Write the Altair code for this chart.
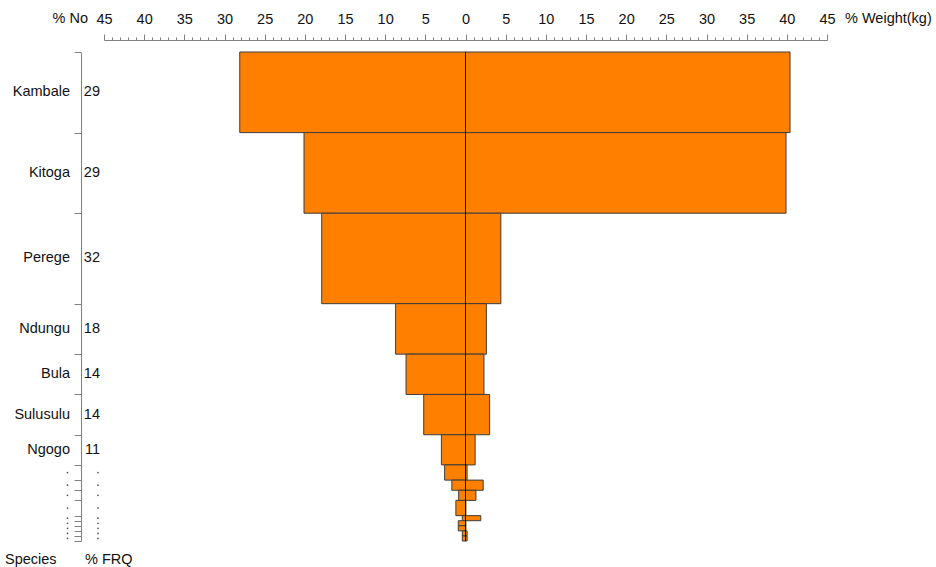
import altair as alt
import pandas as pd

FONT = "Liberation Sans"

# ---- data ----
species = ["Kambale", "Kitoga", "Perege", "Ndungu", "Bula", "Sulusulu", "Ngogo",
           ".", ".", ".", ".", ".", ".", ".", ".", "."]
frq = [28.6, 28.6, 32.1, 17.9, 14.3, 14.3, 10.7,
       5.4, 3.6, 3.6, 5.4, 1.8, 1.8, 1.8, 1.8, 1.8]
frq_label = ["29", "29", "32", "18", "14", "14", "11",
             ".", ".", ".", ".", ".", ".", ".", ".", "."]
pct_no = [28.1, 20.1, 17.9, 8.7, 7.4, 5.2, 3.0,
          2.6, 1.7, 0.85, 1.2, 0.4, 0.9, 0.9, 0.4, 0.4]
pct_weight = [40.4, 39.9, 4.4, 2.6, 2.3, 3.0, 1.2,
              0.2, 2.2, 1.3, 0.05, 1.9, 0.05, 0.05, 0.2, 0.2]

df = pd.DataFrame({"species": species, "frq": frq, "frq_label": frq_label,
                   "pct_no": pct_no, "pct_weight": pct_weight})
df["end"] = df["frq"].cumsum()
df["start"] = df["end"] - df["frq"]
df["mid"] = (df["start"] + df["end"]) / 2
df["neg_no"] = -df["pct_no"]
total = float(df["end"].iloc[-1])
boundaries = [0.0] + [float(v) for v in df["end"]]

W, H = 723, 489

xscale = alt.Scale(domain=[-45, 45], nice=False, zero=False)
yscale = alt.Scale(domain=[0, total], reverse=True, nice=False, zero=False)

x_axis = alt.Axis(
    orient="top", values=list(range(-45, 46)), title=None, grid=False,
    labelExpr="datum.value % 5 === 0 ? abs(datum.value) : ''",
    tickSize={"condition": {"test": "datum.value % 5 === 0", "value": 6}, "value": 3},
    offset=12, domainColor="#808080", tickColor="#808080", domainWidth=1, tickWidth=1,
    labelFont=FONT, labelFontSize=14.5, labelColor="#111111", labelPadding=8,
    labelOverlap=False, labelFlush=False,
)
y_axis = alt.Axis(
    orient="left", values=boundaries, labels=False, title=None, grid=False,
    tickSize=7, offset=23, domainColor="#808080", tickColor="#808080",
    domainWidth=1, tickWidth=1,
)

base = alt.Chart(df)

bars = base.mark_rect(fill="#FF8000", stroke="#3c3c3c", strokeWidth=1).encode(
    x=alt.X("neg_no:Q", scale=xscale, axis=x_axis),
    x2="pct_weight:Q",
    y=alt.Y("start:Q", scale=yscale, axis=y_axis),
    y2="end:Q",
)

center = alt.Chart(alt.Data(values=[{}])).mark_rule(color="#000000", strokeWidth=1).encode(
    x=alt.X("z:Q", scale=xscale, axis=x_axis),
    y=alt.Y("t:Q", scale=yscale, axis=y_axis),
    y2="b:Q",
).transform_calculate(z="0", t="0", b=str(total))

named = base.transform_filter("datum.species !== '.'")
unnamed = base.transform_filter("datum.species === '.'")

names = named.mark_text(align="right", baseline="middle", font=FONT,
                        fontSize=14.5, color="#111111").encode(
    x=alt.value(-34),
    y=alt.Y("mid:Q", scale=yscale, axis=y_axis),
    text="species:N",
)
freqs = named.mark_text(align="right", baseline="middle", font=FONT,
                        fontSize=14.5, color="#111111").encode(
    x=alt.value(-4),
    y=alt.Y("mid:Q", scale=yscale, axis=y_axis),
    text="frq_label:N",
)
# species too small to label are marked with a small dot in both columns
dots_names = unnamed.mark_circle(size=3, color="#555555", opacity=1).encode(
    x=alt.value(-36.5),
    y=alt.Y("mid:Q", scale=yscale, axis=y_axis),
)
dots_freqs = unnamed.mark_circle(size=3, color="#555555", opacity=1).encode(
    x=alt.value(-6),
    y=alt.Y("mid:Q", scale=yscale, axis=y_axis),
)


def caption(txt, px, py, align="left"):
    return alt.Chart(alt.Data(values=[{}])).mark_text(
        text=txt, align=align, baseline="middle", font=FONT,
        fontSize=14.5, color="#111111",
    ).encode(x=alt.value(px), y=alt.value(py))


chart = alt.layer(
    bars, center, names, freqs, dots_names, dots_freqs,
    caption("Species", -99, 508),
    caption("% FRQ", -19, 508),
    caption("% No", -16, -33, "right"),
    caption("% Weight(kg)", 741, -33),
).properties(
    width=W, height=H,
    autosize=alt.AutoSizeParams(type="none"),
    padding={"left": 104, "top": 52, "right": 109, "bottom": 26},
    background="white",
).configure_view(stroke=None)

chart.save("out.html", embed_options={"renderer": "svg", "actions": False})
